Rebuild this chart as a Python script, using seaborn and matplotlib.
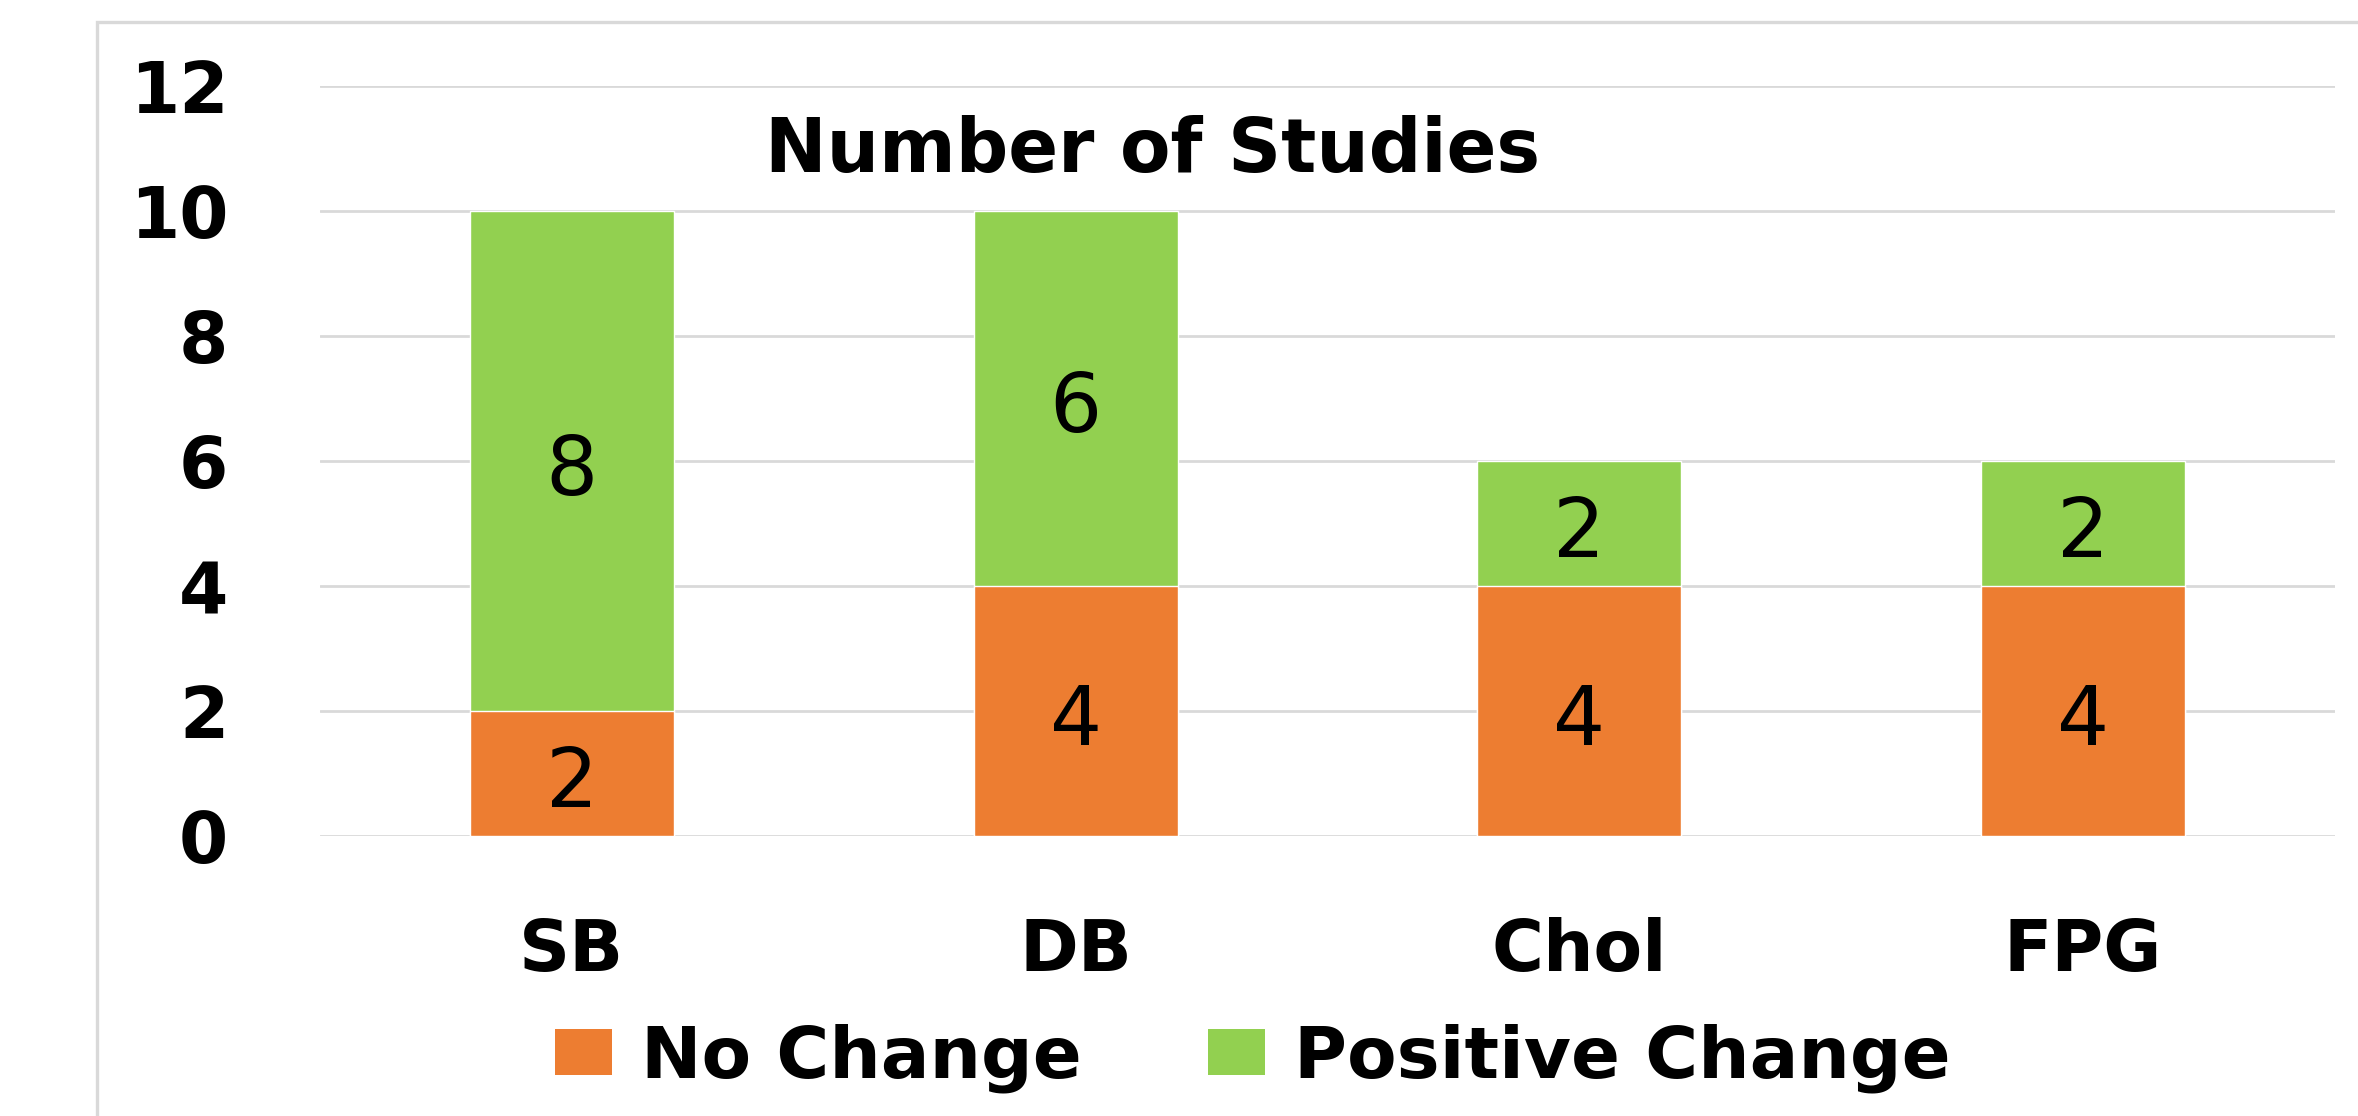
import matplotlib
matplotlib.use("Agg")
import matplotlib.pyplot as plt
from matplotlib.patches import Rectangle, Patch
import seaborn as sns
import pandas as pd

# Outcome categories and study counts per effect
categories = ["SB", "DB", "Chol", "FPG"]
no_change = [2, 4, 4, 4]
positive_change = [8, 6, 2, 2]
y_ticks = [0, 2, 4, 6, 8, 10, 12]
series_names = ["No Change", "Positive Change"]
title_text = "Number of Studies"

ORANGE = "#ED7D31"
GREEN = "#92D050"
GRID = "#D9D9D9"
FONT = ["DejaVu Sans"]

sns.set_theme(style="white")
plt.rcParams["font.family"] = FONT

W, H, DPI = 2358, 1116, 100
fig = plt.figure(figsize=(W / DPI, H / DPI), dpi=DPI)
fig.patch.set_facecolor("white")

# light outer chart-area frame
fig.patches.append(Rectangle((97 / W, -0.05), 1.2, 1 - 22 / H + 0.05,
                             transform=fig.transFigure, fill=False,
                             edgecolor=GRID, linewidth=2.4, zorder=0))

ax = fig.add_axes([320 / W, 280 / H, 2015 / W, 750 / H])

df = pd.DataFrame({
    "category": categories,
    "no_change": no_change,
    "positive": positive_change,
})
df["total"] = df["no_change"] + df["positive"]

# stacked bars: full height in green, lower segment in orange on top
sns.barplot(data=df, x="category", y="total", color=GREEN, width=0.405,
            saturation=1, ax=ax, zorder=3)
sns.barplot(data=df, x="category", y="no_change", color=ORANGE, width=0.405,
            saturation=1, ax=ax, zorder=4)

# segment value labels, centred in each segment
label_kw = dict(ha="center", va="center", fontsize=59, color="black",
                textcoords="offset points", xytext=(0, -8), zorder=6)
for i, row in df.iterrows():
    ax.annotate(f"{row['no_change']}", (i, row["no_change"] / 2), **label_kw)
    ax.annotate(f"{row['positive']}",
                (i, row["no_change"] + row["positive"] / 2), **label_kw)

ax.set_ylim(0, 12)
ax.set_xlim(-0.5, len(categories) - 0.5)
ax.set_yticks(y_ticks)
ax.set_yticklabels([str(t) for t in y_ticks])
ax.set_xlabel("")
ax.set_ylabel("")
ax.yaxis.grid(True, color=GRID, linewidth=2.0, zorder=0)
ax.xaxis.grid(False)
ax.set_axisbelow(True)
for s in ax.spines.values():
    s.set_visible(False)
ax.tick_params(axis="y", length=0, pad=66, labelsize=51, labelcolor="black")
ax.tick_params(axis="x", length=0, pad=58, labelsize=51, labelcolor="black")
for lab in ax.get_yticklabels() + ax.get_xticklabels():
    lab.set_fontweight("bold")

ax.text(0.413, 10.95, title_text, transform=ax.get_yaxis_transform(),
        ha="center", va="center", fontsize=53, fontweight="bold", color="black")

handles = [Patch(facecolor=ORANGE, edgecolor="none"),
           Patch(facecolor=GREEN, edgecolor="none")]
fig.legend(handles, series_names, loc="center",
           bbox_to_anchor=(1253 / W, 1 - 1058 / H), ncol=2, frameon=False,
           prop={"family": FONT, "weight": "bold", "size": 52},
           labelcolor="black",
           handlelength=0.79, handleheight=0.61, handletextpad=0.4,
           columnspacing=1.75, borderaxespad=0, borderpad=0)

fig.savefig("out.png", dpi=DPI, facecolor="white")
